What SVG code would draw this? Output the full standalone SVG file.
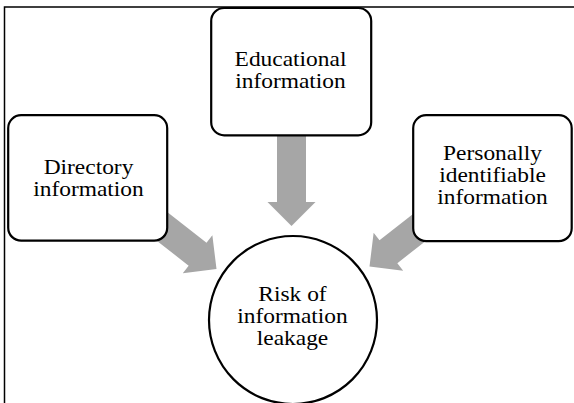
<svg xmlns="http://www.w3.org/2000/svg" width="574" height="403" viewBox="0 0 574 403">
  <defs>
    <style>
      .box { fill: #ffffff; stroke: #000000; stroke-width: 2.2; }
      .arrow { fill: #a6a6a6; stroke: none; }
      .lbl { font-family: "Liberation Serif", "Times New Roman", serif; font-size: 21.5px; fill: #000000; text-anchor: middle; }
      .frame { fill: none; stroke: #000000; stroke-width: 1.5; }
    </style>
    <polygon id="arw" points="0,0 -24,-24 -24,-14.5 -95,-14.5 -95,14.5 -24,14.5 -24,24"/>
  </defs>
  <rect x="0" y="0" width="574" height="403" fill="#ffffff"/>
  <path class="frame" d="M4.5,403 V7 H574"/>
  <g id="connectors">
    <use href="#arw" class="arrow" transform="translate(291.5,226) rotate(90)"/>
    <use href="#arw" class="arrow" transform="translate(216.5,269) rotate(38)"/>
    <use href="#arw" class="arrow" transform="translate(369.5,266.5) rotate(142)"/>
  </g>
  <g id="directory">
    <rect class="box" x="8.2" y="115.2" width="159" height="125.5" rx="13"/>
    <g transform="translate(88.5,0) scale(1.09,1)">
      <text class="lbl" x="0" y="174.5">Directory</text>
      <text class="lbl" x="0" y="196.5">information</text>
    </g>
  </g>
  <g id="educational">
    <rect class="box" x="211.2" y="8" width="160" height="127.3" rx="13"/>
    <g transform="translate(290.5,0) scale(1.09,1)">
      <text class="lbl" x="0" y="66.5">Educational</text>
      <text class="lbl" x="0" y="88.5">information</text>
    </g>
  </g>
  <g id="personal">
    <rect class="box" x="413.2" y="115.2" width="158.5" height="126" rx="13"/>
    <g transform="translate(492.5,0) scale(1.09,1)">
      <text class="lbl" x="0" y="160.5">Personally</text>
      <text class="lbl" x="0" y="182.5">identifiable</text>
      <text class="lbl" x="0" y="204.5">information</text>
    </g>
  </g>
  <g id="risk">
    <circle class="box" cx="293" cy="320" r="84"/>
    <g transform="translate(292.5,0) scale(1.09,1)">
      <text class="lbl" x="0" y="301.5">Risk of</text>
      <text class="lbl" x="0" y="323.5">information</text>
      <text class="lbl" x="0" y="345.5">leakage</text>
    </g>
  </g>
</svg>
